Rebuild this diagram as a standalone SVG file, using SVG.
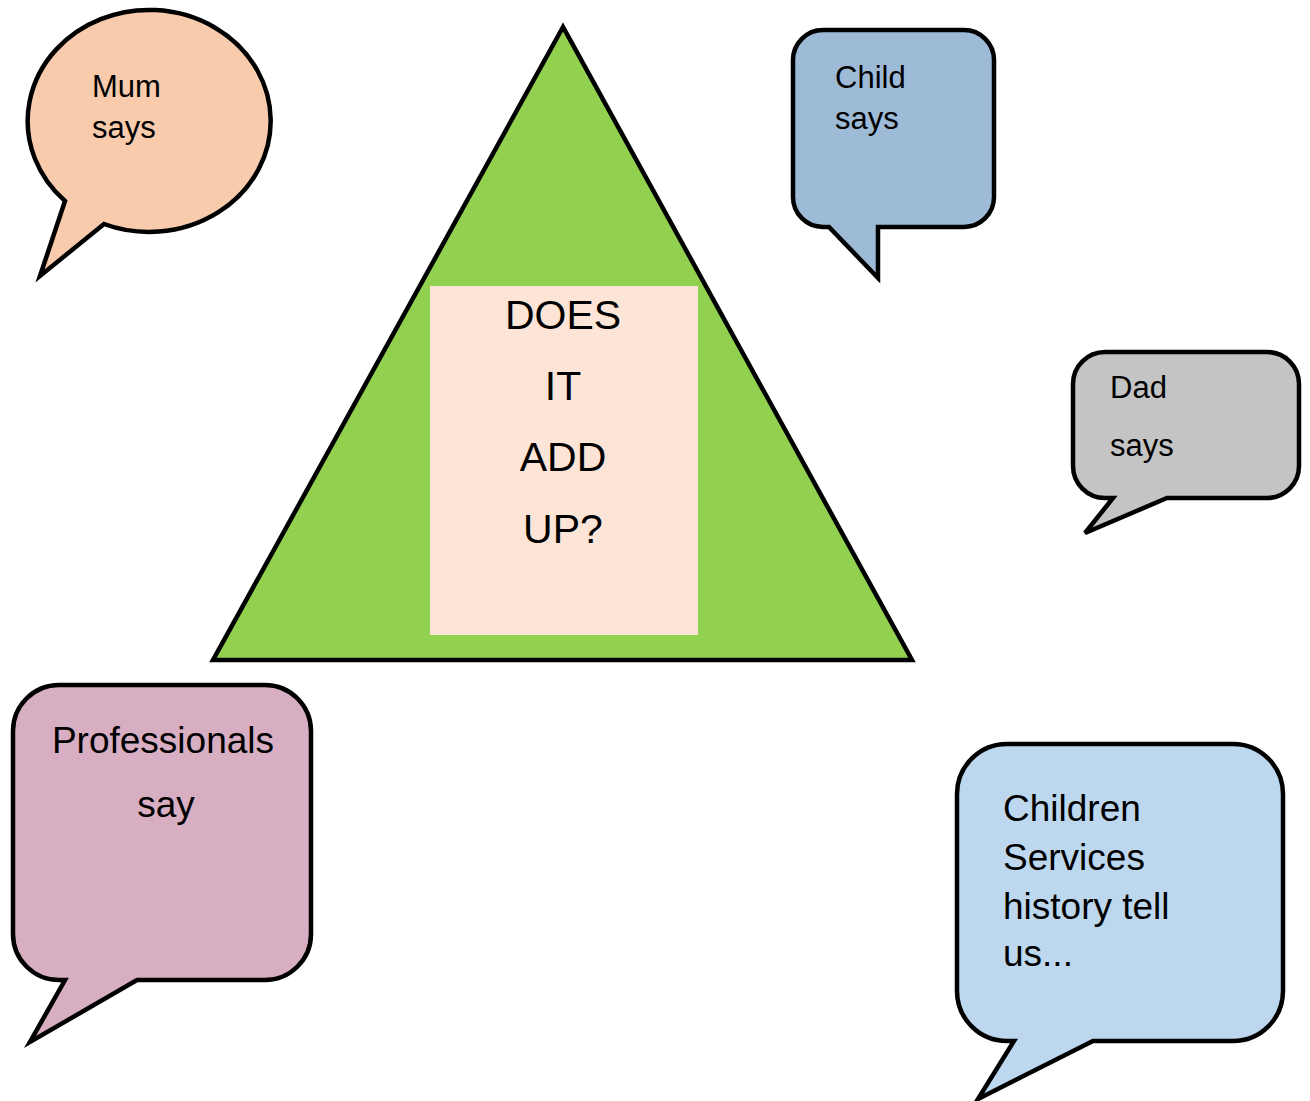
<svg xmlns="http://www.w3.org/2000/svg" width="1310" height="1101" viewBox="0 0 1310 1101">
<style>
.b{stroke:#000;stroke-width:4.5;stroke-linejoin:miter}
.t{font-family:"Liberation Sans",Arial,sans-serif;fill:#000}
.s{font-size:31px}
.m{font-size:37px}
.l{font-size:41px;text-anchor:middle}
</style>
<rect width="1310" height="1101" fill="#fff"/>
<g id="triangle">
<polygon class="b" points="563,27 213,660 912,660" fill="#92D050"/>
<rect x="430" y="286" width="268" height="349" fill="#FCE4D6"/>
<text class="t l" x="563" y="329">DOES</text>
<text class="t l" x="563" y="400">IT</text>
<text class="t l" x="563" y="471">ADD</text>
<text class="t l" x="563" y="543">UP?</text>
</g>
<g id="mum">
<path class="b" fill="#F8CBAD" d="M104 224 A121.5 111 0 1 0 65 201 L40 276 Z"/>
<text class="t s" x="92" y="97">Mum</text>
<text class="t s" x="92" y="138">says</text>
</g>
<g id="child">
<path class="b" fill="#9DBAD6" d="M823 30 H964 A30 30 0 0 1 994 60 V197 A30 30 0 0 1 964 227 H878 V278 L829 227 H823 A30 30 0 0 1 793 197 V60 A30 30 0 0 1 823 30 Z"/>
<text class="t s" x="835" y="88">Child</text>
<text class="t s" x="835" y="129">says</text>
</g>
<g id="dad">
<path class="b" fill="#C4C4C4" d="M1105 352 H1267 A32 32 0 0 1 1299 384 V466 A32 32 0 0 1 1267 498 H1167 L1085 533 L1113 498 H1105 A32 32 0 0 1 1073 466 V384 A32 32 0 0 1 1105 352 Z"/>
<text class="t s" x="1110" y="398">Dad</text>
<text class="t s" x="1110" y="456">says</text>
</g>
<g id="professionals">
<path class="b" fill="#D8AEC2" d="M59 685 H265 A46 46 0 0 1 311 731 V934 A46 46 0 0 1 265 980 H137 L30 1042 L65 980 H59 A46 46 0 0 1 13 934 V731 A46 46 0 0 1 59 685 Z"/>
<text class="t m" x="163" y="753" text-anchor="middle">Professionals</text>
<text class="t m" x="166" y="817" text-anchor="middle">say</text>
</g>
<g id="history">
<path class="b" fill="#BDD7EE" d="M1007 744 H1233 A50 50 0 0 1 1283 794 V991 A50 50 0 0 1 1233 1041 H1093 L978 1099 L1014 1041 H1007 A50 50 0 0 1 957 991 V794 A50 50 0 0 1 1007 744 Z"/>
<text class="t m" x="1003" y="821">Children</text>
<text class="t m" x="1003" y="870">Services</text>
<text class="t m" x="1003" y="919">history tell</text>
<text class="t m" x="1003" y="966">us...</text>
</g>
<g id="connectors"/>
</svg>
